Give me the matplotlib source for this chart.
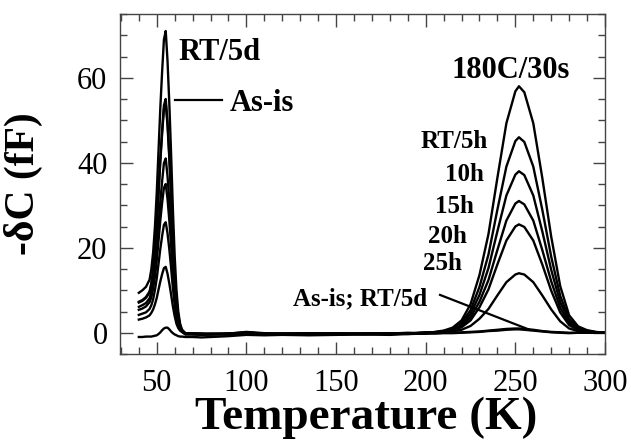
import matplotlib
matplotlib.use("Agg")
import matplotlib.pyplot as plt
from matplotlib.ticker import MultipleLocator

# Temperature grid (K)
temperature = [40, 42, 44, 46, 47, 48, 49, 50, 51, 52, 53, 54, 55, 56, 57, 58, 59, 60, 61, 62, 63, 64, 66,
               70, 75, 80, 90, 100, 110, 120, 135, 150, 165, 180, 190, 200,
               205, 210, 215, 220, 225, 230, 235, 240, 245, 250, 252, 255, 260, 265, 270, 275, 280, 285, 290, 295, 300]

# -dC (fF) for each anneal condition
as_is = [7.3, 7.7, 8.4, 9.7, 11.7, 14.8, 19.4, 25.6, 33.3, 41.1, 47.7, 53.5, 55.0, 49.6, 41.8, 32.6, 22.5, 14.0, 7.7, 3.9, 1.7, 0.6, -0.2,
         -0.2, -0.3, -0.4, -0.3, -0.1, -0.3, -0.2, -0.4, -0.2, -0.3, -0.2, 0.0, -0.2,
         -0.1, 0.0, 0.0, 0.1, 0.2, 0.3, 0.5, 0.7, 0.9, 1.0, 1.0, 0.9, 0.7, 0.4, 0.2, 0.1, 0.0, 0.0, 0.0, 0.0, 0.0]
rt_5d = [9.4, 10.0, 10.8, 12.5, 15.0, 19.0, 25.0, 33.0, 43.0, 53.0, 61.5, 69.0, 71.0, 64.0, 54.0, 42.0, 29.0, 18.0, 10.0, 5.0, 2.2, 0.8, -0.2,
         -0.3, -0.4, -0.3, -0.2, 0.1, -0.2, -0.3, -0.1, -0.3, -0.2, -0.1, -0.2, -0.1,
         -0.2, -0.1, -0.1, 0.0, 0.1, 0.2, 0.4, 0.5, 0.7, 0.8, 0.8, 0.7, 0.5, 0.3, 0.1, 0.0, -0.1, 0.0, 0.0, 0.0, 0.0]
c180_30s = [-1.0, -1.0, -0.9, -0.9, -0.9, -0.8, -0.7, -0.6, -0.3, 0.1, 0.6, 1.0, 1.2, 1.2, 0.8, 0.3, -0.1, -0.4, -0.6, -0.8, -0.9, -0.9, -1.0,
            -1.0, -1.1, -1.0, -0.8, -0.5, -0.6, -0.5, -0.6, -0.5, -0.4, -0.5, -0.3, -0.2,
            0.2, 0.5, 1.2, 2.9, 6.7, 13.6, 23.2, 36.5, 49.3, 56.8, 58.0, 56.6, 49.3, 36.5, 22.6, 11.0, 4.1, 1.5, 0.6, 0.2, 0.0]
rt_5h = [3.1, 3.3, 3.6, 4.1, 4.7, 5.5, 6.7, 8.2, 10.2, 12.1, 13.8, 15.2, 15.5, 13.9, 11.6, 9.0, 6.2, 3.9, 2.1, 1.1, 0.5, 0.2, -0.4,
         -0.4, -0.5, -0.4, -0.3, -0.2, -0.4, -0.3, -0.3, -0.4, -0.2, -0.3, -0.2, 0.0,
         0.1, 0.4, 0.9, 2.3, 5.3, 10.8, 18.4, 29.0, 39.1, 45.1, 46.0, 44.9, 39.1, 29.0, 17.9, 8.7, 3.2, 1.2, 0.5, 0.1, 0.0]
rt_10h = [4.2, 4.5, 4.8, 5.6, 6.5, 7.9, 10.1, 12.8, 16.3, 19.8, 22.8, 25.4, 26.0, 23.4, 19.7, 15.3, 10.5, 6.5, 3.6, 1.8, 0.8, 0.3, -0.3,
          -0.3, -0.2, -0.3, -0.4, 0.0, -0.2, -0.4, -0.2, -0.3, -0.4, -0.2, -0.1, 0.0,
          0.1, 0.3, 0.8, 1.9, 4.4, 8.9, 15.2, 23.9, 32.3, 37.2, 38.0, 37.1, 32.3, 23.9, 14.8, 7.2, 2.7, 1.0, 0.4, 0.1, 0.0]
rt_15h = [5.4, 5.7, 6.2, 7.2, 8.4, 10.4, 13.2, 17.0, 21.7, 26.5, 30.6, 34.1, 35.0, 31.5, 26.5, 20.6, 14.2, 8.8, 4.9, 2.4, 1.1, 0.4, -0.2,
          -0.2, -0.3, -0.2, -0.3, -0.1, -0.3, -0.2, -0.3, -0.1, -0.3, -0.3, -0.2, 0.1,
          0.1, 0.2, 0.6, 1.6, 3.6, 7.3, 12.4, 19.5, 26.4, 30.4, 31.0, 30.2, 26.4, 19.5, 12.1, 5.9, 2.2, 0.8, 0.3, 0.1, 0.0]
rt_20h = [6.1, 6.5, 7.0, 8.1, 9.6, 11.8, 15.2, 19.7, 25.3, 30.9, 35.7, 39.9, 41.0, 36.9, 31.0, 24.2, 16.7, 10.3, 5.8, 2.9, 1.2, 0.4, -0.3,
          -0.3, -0.4, -0.3, -0.2, 0.2, -0.1, -0.3, -0.2, -0.3, -0.2, -0.1, -0.2, 0.0,
          0.1, 0.2, 0.5, 1.3, 2.9, 6.0, 10.2, 16.1, 21.7, 25.0, 25.5, 24.9, 21.7, 16.1, 9.9, 4.8, 1.8, 0.6, 0.3, 0.1, 0.0]
rt_25h = [7.1, 7.5, 8.2, 9.5, 11.4, 14.5, 19.1, 25.2, 32.8, 40.4, 46.9, 52.6, 54.0, 48.8, 41.1, 32.1, 22.2, 13.8, 7.6, 3.8, 1.7, 0.6, -0.1,
          -0.1, -0.2, -0.3, -0.2, 0.0, -0.2, -0.2, -0.1, -0.2, -0.2, -0.1, -0.3, -0.1,
          0.0, 0.1, 0.3, 0.7, 1.6, 3.3, 5.6, 8.8, 11.9, 13.7, 14.0, 13.7, 11.9, 8.8, 5.5, 2.7, 1.0, 0.4, 0.1, 0.0, 0.0]

series = [as_is, rt_5d, c180_30s, rt_5h, rt_10h, rt_15h, rt_20h, rt_25h]

x_ticks = [50, 100, 150, 200, 250, 300]
y_ticks = [0, 20, 40, 60]

SERIF = ["Liberation Serif", "DejaVu Serif"]
plt.rcParams["font.family"] = SERIF

fig = plt.figure(figsize=(6.31, 4.48), dpi=100)
ax = fig.add_axes([120 / 631, 1 - 354 / 448, 485 / 631, 340 / 448])

for s in series:
    ax.plot(temperature, s, color="black", lw=1.7, solid_joinstyle="round")

ax.set_xlim(29.5, 300)
ax.set_ylim(-5, 75)
ax.set_xticks(x_ticks)
ax.set_yticks(y_ticks)
ax.xaxis.set_minor_locator(MultipleLocator(10))
ax.yaxis.set_minor_locator(MultipleLocator(5))
spine_c = "#444444"
for sp in ax.spines.values():
    sp.set_linewidth(1.0)
    sp.set_color(spine_c)
ax.tick_params(which="both", direction="in", top=True, right=True, color=spine_c, width=1.0)
ax.tick_params(which="major", length=9)
ax.tick_params(which="minor", length=5)
ax.tick_params(axis="x", which="major", labelsize=22, pad=11)
ax.tick_params(axis="y", which="major", labelsize=22, pad=9)

ax.set_xlabel("Temperature (K)", fontsize=34, fontweight="bold", va="top")
ax.xaxis.set_label_coords(0.507, -0.126)
ax.set_ylabel("-δC (fF)", fontsize=30, fontweight="bold")
ax.yaxis.set_label_coords(-0.159, 0.5)

bold = dict(fontweight="bold", color="black")
ax.text(61.9, 64.1, "RT/5d", fontsize=22, ha="left", va="baseline", **bold)
ax.text(90.9, 52.1, "As-is", fontsize=22, ha="left", va="baseline", **bold)
ax.plot([60.2, 86.2], [54.8, 54.8], color="black", lw=1.6)
ax.text(247.5, 59.9, "180C/30s", fontsize=22, ha="center", va="baseline", **bold)
ax.text(234.9, 43.5, "RT/5h", fontsize=18, ha="right", va="baseline", **bold)
ax.text(232.2, 35.6, "10h", fontsize=18, ha="right", va="baseline", **bold)
ax.text(227.0, 28.1, "15h", fontsize=18, ha="right", va="baseline", **bold)
ax.text(222.9, 21.1, "20h", fontsize=18, ha="right", va="baseline", **bold)
ax.text(220.1, 14.8, "25h", fontsize=18, ha="right", va="baseline", **bold)
ax.text(200.6, 6.5, "As-is; RT/5d", fontsize=18, ha="right", va="baseline", **bold)
ax.plot([208.0, 258.2], [8.9, 0.66], color="black", lw=1.6)

fig.savefig("out.png", dpi=100)
